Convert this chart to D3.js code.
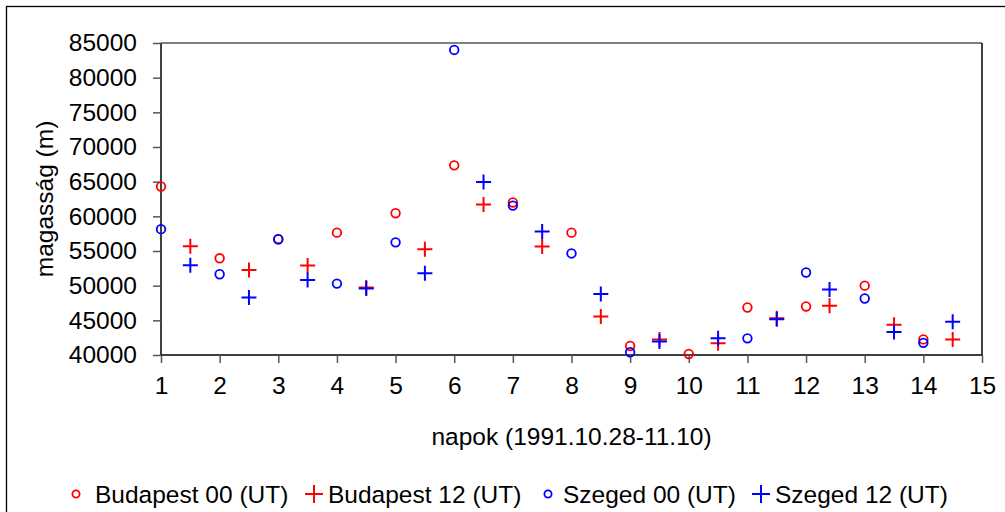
<!DOCTYPE html>
<html>
<head>
<meta charset="utf-8">
<script src="https://cdn.jsdelivr.net/npm/d3@7"></script>
<style>
  html, body { margin: 0; padding: 0; background: #fff; }
  svg { display: block; font-family: "Liberation Sans", Arial, sans-serif; }
</style>
</head>
<body>
<svg id="chart" width="1005" height="512"></svg>
<script>
// Geopotential height soundings, 1991.10.28 – 11.10
const days00 = [1, 2, 3, 4, 5, 6, 7, 8, 9, 10, 11, 12, 13, 14];
const days12 = [1.5, 2.5, 3.5, 4.5, 5.5, 6.5, 7.5, 8.5, 9.5, 10.5, 11.5, 12.4, 13.5, 14.5];

const budapest00 = [64300, 53950, 56700, 57650, 60450, 67350, 62000, 57650, 41300, 40150, 46850, 47000, 50000, 42250];
const budapest12 = [55700, 52250, 52900, 49750, 55250, 61700, 55650, 45550, 42250, 41700, 45300, 47100, 44350, 42250];
const szeged00   = [58150, 51650, 56700, 50300, 56250, 84000, 61550, 54650, 40400, null, 42400, 51900, 48150, 41750];
const szeged12   = [52950, 48300, 50800, 49600, 51800, 64950, 57800, 48800, 41950, 42400, 45150, 49450, 43300, 44800];

const xTicks = [1, 2, 3, 4, 5, 6, 7, 8, 9, 10, 11, 12, 13, 14, 15];
const yTicks = [40000, 45000, 50000, 55000, 60000, 65000, 70000, 75000, 80000, 85000];

const xTitle = "napok (1991.10.28-11.10)";
const yTitle = "magasság (m)";

const series = [
  { name: "Budapest 00 (UT)", x: days00, y: budapest00, color: "#ff0000", shape: "circle" },
  { name: "Budapest 12 (UT)", x: days12, y: budapest12, color: "#ff0000", shape: "plus" },
  { name: "Szeged 00 (UT)",   x: days00, y: szeged00,   color: "#0000ff", shape: "circle" },
  { name: "Szeged 12 (UT)",   x: days12, y: szeged12,   color: "#0000ff", shape: "plus" }
];

const svg = d3.select("#chart");
const plot = { left: 161, right: 982, top: 43, bottom: 355 };
const fontSize = 24.5;

// outer chart frame
svg.append("rect")
  .attr("x", 6.5).attr("y", 6.5)
  .attr("width", 1010).attr("height", 520)
  .attr("fill", "#fff").attr("stroke", "#000").attr("stroke-width", 1.3);

const x = d3.scaleLinear().domain([1, 15]).range([plot.left, plot.right]);
const y = d3.scaleLinear().domain([40000, 85000]).range([plot.bottom, plot.top]);

// plot area frame: grey top edge, dark right edge
svg.append("line")
  .attr("x1", plot.left).attr("x2", plot.right)
  .attr("y1", plot.top).attr("y2", plot.top)
  .attr("stroke", "#808080").attr("stroke-width", 2);
svg.append("line")
  .attr("x1", plot.right).attr("x2", plot.right)
  .attr("y1", plot.top).attr("y2", plot.bottom)
  .attr("stroke", "#000").attr("stroke-width", 1.5);

// axes
const yAxis = svg.append("g")
  .attr("transform", `translate(${plot.left},0)`)
  .call(d3.axisLeft(y).tickValues(yTicks).tickSize(8).tickPadding(16).tickFormat(d3.format("d")));
const xAxis = svg.append("g")
  .attr("transform", `translate(0,${plot.bottom})`)
  .call(d3.axisBottom(x).tickValues(xTicks).tickSize(8).tickPadding(14).tickFormat(d3.format("d")));

[xAxis, yAxis].forEach(g => {
  g.select(".domain").attr("stroke", "#000").attr("stroke-width", 1.5);
  g.selectAll(".tick line").attr("stroke", "#555").attr("stroke-width", 1.5);
  g.selectAll(".tick text")
    .attr("fill", "#000")
    .style("font-size", fontSize + "px")
    .style("font-family", "'Liberation Sans', Arial, sans-serif");
});
yAxis.select(".domain").attr("d", `M0,${plot.top}V${plot.bottom}`);
xAxis.select(".domain").attr("d", `M${plot.left},0H${plot.right}`);

// axis titles
svg.append("text")
  .attr("x", (plot.left + plot.right) / 2).attr("y", 445)
  .attr("text-anchor", "middle")
  .style("font-size", fontSize + "px")
  .text(xTitle);
svg.append("text")
  .attr("transform", `translate(53,${(plot.top + plot.bottom) / 2}) rotate(-90)`)
  .attr("text-anchor", "middle")
  .style("font-size", fontSize + "px")
  .text(yTitle);

// marker drawing
function drawMarker(g, shape, color, r) {
  if (shape === "circle") {
    g.append("circle").attr("r", r).attr("fill", "none")
      .attr("stroke", color).attr("stroke-width", 1.8);
  } else {
    g.append("path").attr("d", `M${-r},0H${r}M0,${-r}V${r}`)
      .attr("fill", "none").attr("stroke", color).attr("stroke-width", 2);
  }
}

series.forEach(s => {
  const pts = s.x.map((d, i) => ({ x: d, y: s.y[i] })).filter(p => p.y != null);
  const g = svg.append("g");
  pts.forEach(p => {
    const m = g.append("g").attr("transform", `translate(${x(p.x)},${y(p.y)})`);
    drawMarker(m, s.shape, s.color, s.shape === "circle" ? 4.3 : 7.5);
  });
});

// legend
const legendMarkerX = [76, 314, 548, 761];
const legendTextX = [95, 328, 563, 775];
const legend = svg.append("g").attr("transform", "translate(0,494)");
series.forEach((s, i) => {
  const m = legend.append("g").attr("transform", `translate(${legendMarkerX[i]},0)`);
  drawMarker(m, s.shape, s.color, s.shape === "circle" ? 3.6 : 9);
  legend.append("text")
    .attr("x", legendTextX[i]).attr("y", 0).attr("dy", "0.35em")
    .style("font-size", fontSize + "px")
    .text(s.name);
});
</script>
</body>
</html>
